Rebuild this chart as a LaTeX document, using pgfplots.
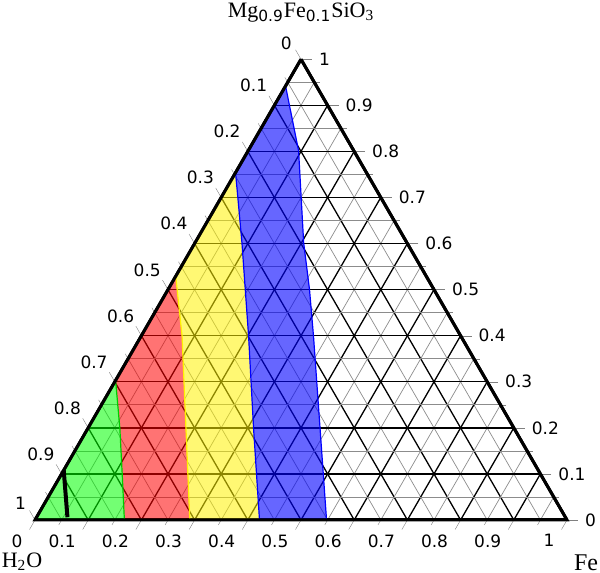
\documentclass[border=0pt]{standalone}
\usepackage{fontspec}
\setmainfont{Liberation Serif}
\newfontfamily\tickfont{DejaVu Sans}
\usepackage{pgfplots}
\pgfplotsset{compat=1.18}
\usepgfplotslibrary{ternary}
\usetikzlibrary{calc}

\begin{document}
\begin{tikzpicture}
\begin{ternaryaxis}[
    scale only axis,
    width=266pt,
    ternary limits relative=false,
    xmin=0, xmax=1, ymin=0, ymax=1, zmin=0, zmax=1,
    xtick={0,0.1,0.2,0.3,0.4,0.5,0.6,0.7,0.8,0.9,1},
    ytick={0,0.1,0.2,0.3,0.4,0.5,0.6,0.7,0.8,0.9,1},
    ztick={0,0.1,0.2,0.3,0.4,0.5,0.6,0.7,0.8,0.9,1},
    minor tick num=1,
    grid=both,
    major tick length=5.5pt,
    major grid style={black, line width=0.65pt},
    minor grid style={black!45, line width=0.35pt},
    axis line style={line width=1.5pt},
    tick label style={font=\tickfont\fontsize{8.5}{10}\selectfont, /pgf/number format/assume math mode=true},
    yticklabel style={xshift=3pt, yshift=-1pt},
    zticklabel style={anchor=north east, yshift=1pt},
    clip=false,
]
% (MgSiO3, H2O, Fe)
\addplot3[draw=none, fill=red, fill opacity=0.55] coordinates {
    (0,0.832,0.168) (0.098,0.787,0.115) (0.199,0.741,0.060) (0.303,0.697,0)
    (0.529,0.471,0) (0.399,0.524,0.077) (0.246,0.595,0.159) (0,0.709,0.291)
    (0,0.832,0.168)
};
\addplot3[draw=none, fill=green, fill opacity=0.55] coordinates {
    (0,1,0) (0.303,0.697,0) (0.199,0.741,0.060) (0.098,0.787,0.115) (0,0.832,0.168) (0,1,0)
};
\addplot3[draw=none, fill=yellow, fill opacity=0.55] coordinates {
    (0,0.709,0.291) (0.246,0.595,0.159) (0.399,0.524,0.077) (0.529,0.471,0)
    (0.754,0.246,0) (0.602,0.310,0.088) (0.399,0.399,0.202) (0.196,0.491,0.313)
    (0,0.578,0.422) (0,0.709,0.291)
};
\addplot3[draw=none, fill=blue, fill opacity=0.6] coordinates {
    (0,0.578,0.422) (0.196,0.491,0.313) (0.399,0.399,0.202) (0.602,0.310,0.088)
    (0.754,0.246,0) (0.942,0.058,0) (0.801,0.104,0.095) (0.602,0.194,0.204)
    (0.500,0.234,0.266) (0.399,0.277,0.324) (0.196,0.366,0.438) (0,0.452,0.548)
    (0,0.578,0.422)
};
% boundaries
\addplot3[green!80!black, line width=0.6pt] coordinates {
    (0.303,0.697,0) (0.199,0.741,0.060) (0.098,0.787,0.115) (0,0.832,0.168)
};
\addplot3[yellow, line width=0.6pt] coordinates {
    (0.529,0.471,0) (0.399,0.524,0.077) (0.246,0.595,0.159) (0,0.709,0.291)
};
\addplot3[blue, line width=0.6pt] coordinates {
    (0.754,0.246,0) (0.602,0.310,0.088) (0.399,0.399,0.202) (0.196,0.491,0.313) (0,0.578,0.422)
};
\addplot3[blue, line width=0.6pt] coordinates {
    (0.942,0.058,0) (0.801,0.104,0.095) (0.602,0.194,0.204) (0.500,0.234,0.266)
    (0.399,0.277,0.324) (0.196,0.366,0.438) (0,0.452,0.548)
};
% triangle border
\addplot3[black, line width=1.5pt] coordinates {(1,0,0) (0,1,0) (0,0,1) (1,0,0)};
% measured segment
\addplot3[black, line width=2pt] coordinates {(0.108,0.892,0) (0.006,0.936,0.058)};

\coordinate (cM) at (axis cs:1,0,0);
\coordinate (cH) at (axis cs:0,1,0);
\coordinate (cF) at (axis cs:0,0,1);
\end{ternaryaxis}
\node[font=\fontsize{11}{13}\selectfont] at ([xshift=-6.5pt, yshift=-21pt]cH) {H\textsubscript{2}O};
\node[font=\fontsize{12}{14}\selectfont] at ([xshift=9.5pt, yshift=-21.5pt]cF) {Fe};
\node[font=\fontsize{11}{13}\selectfont] at ([yshift=23.5pt]cM) {Mg\textsubscript{\tickfont 0.9}Fe\textsubscript{\tickfont 0.1}SiO\textsubscript{3}};
\pgfresetboundingbox
\path let \p1=(cH), \p2=(cF), \n1={(\x2-\x1)/532} in
    (\x1-35*\n1, \y1-53*\n1) rectangle (\x1+565*\n1, \y1+520*\n1);
\end{tikzpicture}
\end{document}
